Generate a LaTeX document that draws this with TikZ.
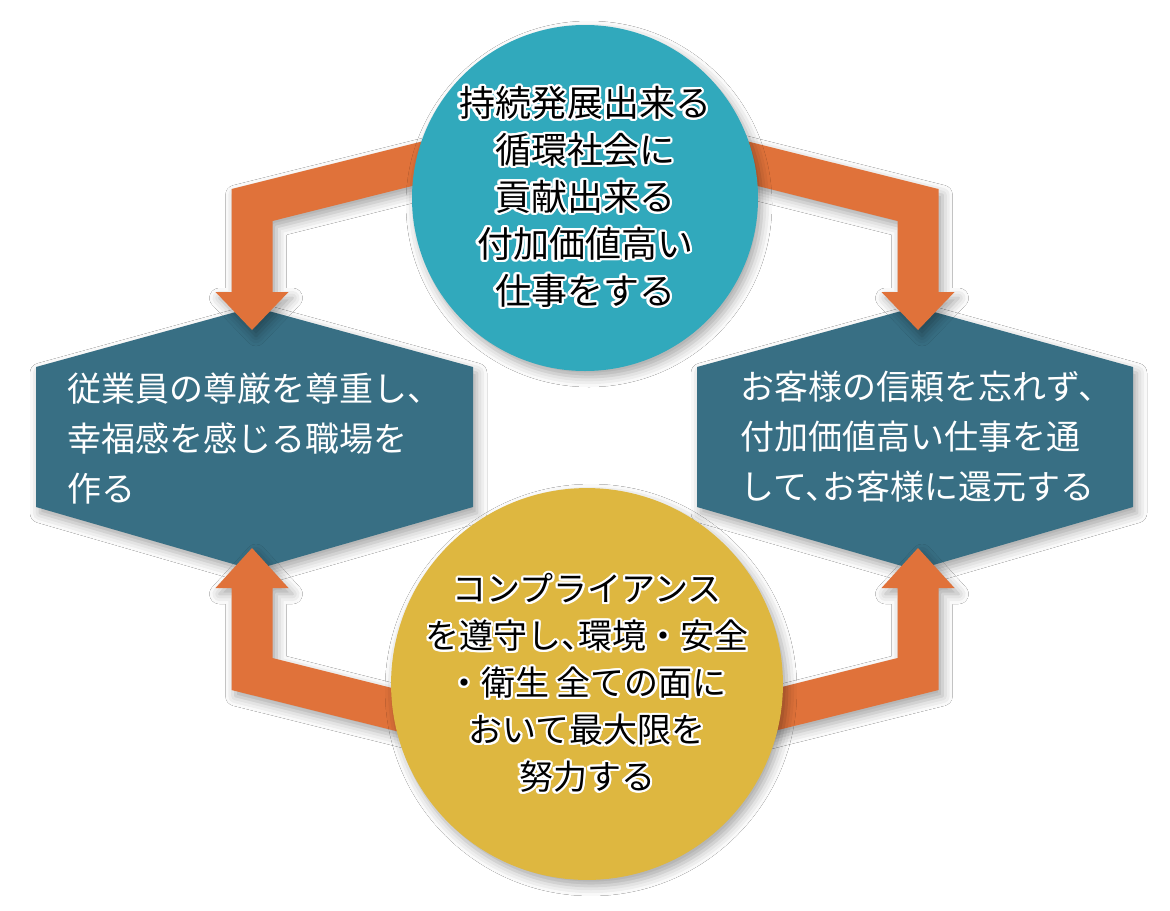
\documentclass[tikz,border=0pt]{standalone}
\usepackage{fontspec}
\newfontfamily\jp{Noto Sans CJK JP}
\usepackage{contour}
\contourlength{1.1pt}
\usetikzlibrary{shadows.blur}

\definecolor{goalteal}{HTML}{31A9BC}
\definecolor{hexblue}{HTML}{386F84}
\definecolor{flowor}{HTML}{E0723A}
\definecolor{baseyel}{HTML}{DEB740}

% white halo round the black circle text
\newcommand\halo[1]{\contour{white}{#1}}
% half-width comma inside a line
\newcommand\tenh{、\kern-0.5em}

\begin{document}
\begin{tikzpicture}[x=0.5pt,y=-0.5pt,
  soft/.style={blur shadow={shadow xshift=2pt,shadow yshift=-3pt,shadow blur radius=5pt,shadow opacity=35}},
  hexa/.style={fill=hexblue,soft},
  band/.style={fill=flowor,soft},
  disc/.style={circle,minimum size=173pt,inner sep=0pt,soft,align=center,text=black,
    font=\jp\fontsize{18}{23.5}\selectfont},
  hextext/.style={anchor=west,inner sep=0pt,align=left,text=white,
    font=\jp\fontsize{17}{25}\selectfont}]
\useasboundingbox[fill=white] (0,0) rectangle (1170,910);

% hexagons
\fill[hexa] (36,367) -- (254,307) -- (473,367) -- (473,507) -- (254,570) -- (36,507) -- cycle;
\fill[hexa] (697,367) -- (916,307) -- (1133,367) -- (1133,507) -- (916,570) -- (697,507) -- cycle;
\node[hextext] (staff) at (67,438) {従業員の尊厳を尊重し、\\幸福感を感じる職場を\\作る};
\node[hextext] (client) at (740,437) {お客様の信頼を忘れず、\\付加価値高い仕事を通\\して\tenh お客様に還元する};

% arrows
\fill[band] (440,137) -- (231.5,189) -- (231.5,292) -- (215.5,292) -- (252,330) -- (288.5,292)
  -- (272.5,292) -- (272.5,221) -- (440,179) -- cycle;
\fill[band] (730,137) -- (938.5,189) -- (938.5,292) -- (954.5,292) -- (918,330) -- (881.5,292)
  -- (897.5,292) -- (897.5,221) -- (730,179) -- cycle;
\fill[band] (440,742) -- (231.5,690) -- (231.5,588) -- (215.5,588) -- (252,548) -- (288.5,588)
  -- (272.5,588) -- (272.5,658) -- (440,700) -- cycle;
\fill[band] (730,742) -- (938.5,690) -- (938.5,588) -- (954.5,588) -- (918,548) -- (881.5,588)
  -- (897.5,588) -- (897.5,658) -- (730,700) -- cycle;

% circles
\node[disc,fill=goalteal] (goal) at (585,198)
  {\halo{持続発展出来る}\\\halo{循環社会に}\\\halo{貢献出来る}\\\halo{付加価値高い}\\\halo{仕事をする}};
\node[disc,fill=baseyel,font=\jp\fontsize{17}{23.5}\selectfont] (base) at (587,684)
  {\halo{コンプライアンス}\\\halo{を遵守し\tenh 環境・安全}\\\halo{・衛生\ 全ての面に}\\\halo{おいて最大限を}\\\halo{努力する}};
\end{tikzpicture}
\end{document}
